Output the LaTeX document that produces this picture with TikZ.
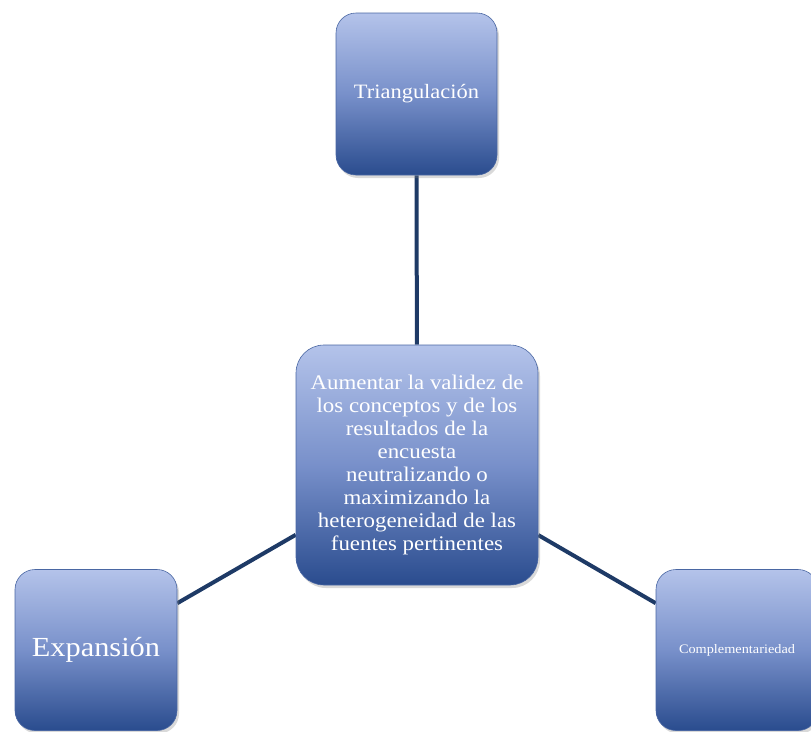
\documentclass[tikz,border=0pt]{standalone}
\usepackage{fontspec}
\setmainfont[FakeStretch=1.1]{Liberation Serif}
\usetikzlibrary{shadows,backgrounds}
\definecolor{boxtop}{HTML}{B4C3EA}
\definecolor{boxmid}{HTML}{7890CA}
\definecolor{boxbot}{HTML}{2A4C8E}
\definecolor{boxedge}{HTML}{4A67A3}
\definecolor{linkcol}{HTML}{1E3A66}
\tikzset{
  boxnode/.style={rectangle, rounded corners=20pt, draw=boxedge, line width=0.6pt,
    top color=boxtop, bottom color=boxbot, middle color=boxmid,
    text=white, align=center, inner sep=0pt,
    drop shadow={opacity=0.3, shadow xshift=2pt, shadow yshift=-3pt}},
  linkline/.style={draw=linkcol, line width=4pt}
}
\begin{document}
\begin{tikzpicture}[x=1pt,y=-1pt]
\useasboundingbox (0,0) rectangle (811,731);
\node[boxnode, minimum width=161pt, minimum height=162pt, font=\fontsize{20.4}{24}\selectfont] (t) at (416.5,94) {Triangulación};
\node[boxnode, rounded corners=28pt, minimum width=242pt, minimum height=240pt, font=\fontsize{20.8}{23}\selectfont] (c) at (417,465)
  {Aumentar la validez de\\los conceptos y de los\\resultados de la\\encuesta\\neutralizando o\\maximizando la\\heterogeneidad de las\\fuentes pertinentes};
\node[boxnode, minimum width=162pt, minimum height=161pt, font=\fontsize{27.6}{30}\selectfont] (l) at (96,650) {Expansión};
\node[boxnode, minimum width=162pt, minimum height=161pt, font=\fontsize{13}{15}\selectfont] (r) at (737,650) {Complementariedad};
\begin{scope}[on background layer]
\draw[linkline] (c) -- (t);
\draw[linkline] (c) -- (l);
\draw[linkline] (c) -- (r);
\end{scope}
\end{tikzpicture}
\end{document}
